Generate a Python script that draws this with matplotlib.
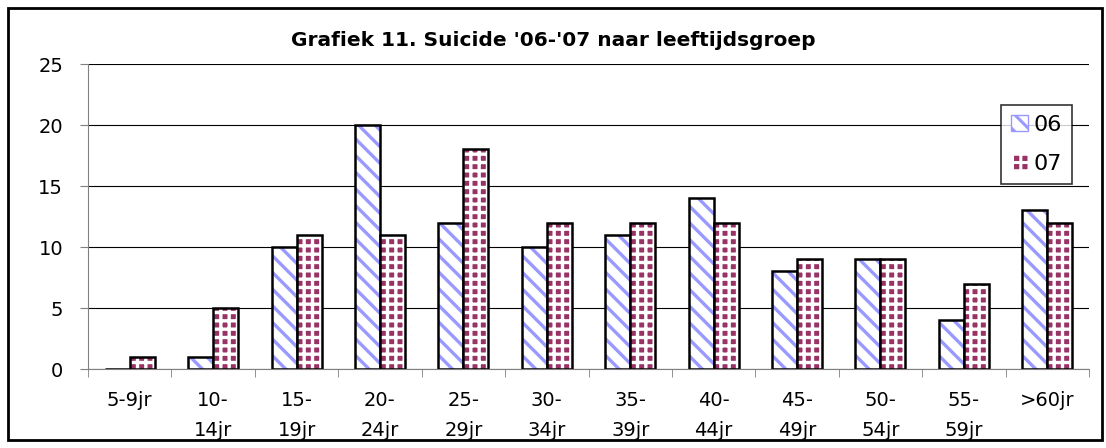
import numpy as np
import matplotlib
matplotlib.use("Agg")
import matplotlib.pyplot as plt
from matplotlib.patches import Rectangle, Patch

plt.rcParams['font.family'] = ['DejaVu Sans']

# Gegevens
categorieen = ['5-9jr', '10-\n14jr', '15-\n19jr', '20-\n24jr', '25-\n29jr', '30-\n34jr',
               '35-\n39jr', '40-\n44jr', '45-\n49jr', '50-\n54jr', '55-\n59jr', '>60jr']
jaar06 = [0, 1, 10, 20, 12, 10, 11, 14, 8, 9, 4, 13]
jaar07 = [1, 5, 11, 11, 18, 12, 12, 12, 9, 9, 7, 12]
reeksen = ['06', '07']

x = np.arange(len(categorieen))
breedte = 0.3
streep = '\\\\'
ruit = '++'

fig = plt.figure(figsize=(11.06, 4.48), dpi=100)
ax = fig.add_axes([0.0796, 0.1763, 0.9050, 0.6807])

# kader rond de figuur
fig.patches.append(Rectangle((8 / 1106, 8 / 448), 1094 / 1106, 432 / 448,
                             transform=fig.transFigure, fill=False,
                             edgecolor='black', linewidth=2))

# 06: blauwe schuine strepen
with plt.rc_context({'hatch.linewidth': 2.4}):
    ax.bar(x - breedte / 2, jaar06, breedte, color='white', edgecolor='#9999FF',
           hatch=streep, linewidth=0)
ax.bar(x - breedte / 2, jaar06, breedte, fill=False, edgecolor='black', linewidth=1.8)
# 07: bordeaux met wit patroon
with plt.rc_context({'hatch.linewidth': 2.4}):
    ax.bar(x + breedte / 2, jaar07, breedte, color='#993366', edgecolor='white',
           hatch=ruit, linewidth=0)
ax.bar(x + breedte / 2, jaar07, breedte, fill=False, edgecolor='black', linewidth=1.8)

ax.set_xlim(-0.5, len(categorieen) - 0.5)
ax.set_ylim(0, 25)
ax.set_yticks(np.arange(0, 26, 5))
ax.yaxis.grid(True, color='black', linewidth=0.8)
ax.set_axisbelow(True)

ax.set_xticks(x)
ax.set_xticklabels(categorieen, fontsize=14, linespacing=1.75)
ax.set_xticks(np.arange(-0.5, len(categorieen)), minor=True)
ax.tick_params(axis='x', which='major', length=0, pad=16)
ax.tick_params(axis='x', which='minor', length=6, color='#808080')
ax.tick_params(axis='y', length=6, color='#808080', labelsize=14, pad=12)

for s in ['top', 'right']:
    ax.spines[s].set_visible(False)
for s in ['left', 'bottom']:
    ax.spines[s].set_color('#808080')

fig.text(0.5, 0.91, "Grafiek 11. Suicide '06-'07 naar leeftijdsgroep",
         ha='center', va='center', fontsize=14.5, fontweight='bold')

with plt.rc_context({'hatch.linewidth': 2.2}):
    handles = [Patch(facecolor='white', edgecolor='#9999FF', hatch=streep),
               Patch(facecolor='#993366', edgecolor='white', hatch=ruit)]
    leg = ax.legend(handles, reeksen, loc='upper right', bbox_to_anchor=(0.983, 0.866),
                    fontsize=16, frameon=True, fancybox=False, edgecolor='black',
                    handlelength=0.75, handleheight=0.75, handletextpad=0.25,
                    borderpad=0.45, labelspacing=0.85, borderaxespad=0)
leg.get_frame().set_linewidth(1.2)

fig.savefig('out.png', dpi=100)
